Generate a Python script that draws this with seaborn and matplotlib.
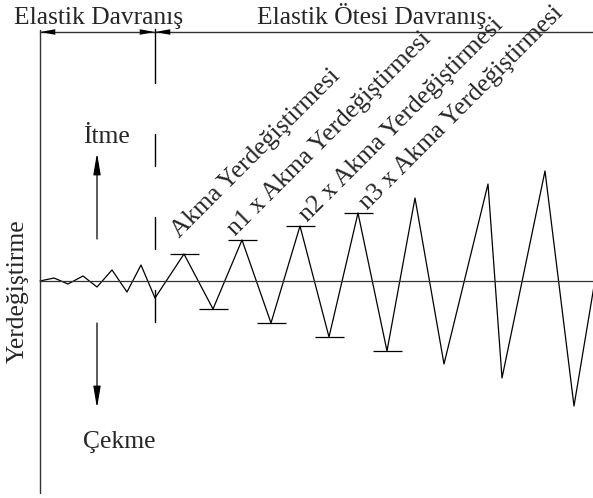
import matplotlib
matplotlib.use("Agg")
import matplotlib.pyplot as plt
import seaborn as sns
import numpy as np
import pandas as pd

# ---- data (x = horizontal position, y = displacement, positive = push) ----
x_pos = [40, 54, 68, 83, 97, 112, 127, 141, 155, 184, 213, 242, 271, 300, 329,
         358, 387, 415, 444, 488, 502, 545, 574, 612]
disp = [0, 3, -3, 5, -6, 11, -11, 16, -17, 27, -28, 41, -42, 55, -56, 68, -70,
        83, -83, 97, -97, 110, -125, 103]
yield_idx = [9, 10, 11, 12, 13, 14, 15, 16]   # points marked with a horizontal bar
labels = ["Akma Yerdeğiştirmesi", "n1 x Akma Yerdeğiştirmesi",
          "n2 x Akma Yerdeğiştirmesi", "n3 x Akma Yerdeğiştirmesi"]
top_left_label = "Elastik Davranış"
top_right_label = "Elastik Ötesi Davranış"
y_label = "Yerdeğiştirme"
push_label = "İtme"
pull_label = "Çekme"

df = pd.DataFrame({"x": x_pos, "disp": disp})

sns.set_theme(style="white")
plt.rcParams["font.family"] = ["Liberation Serif", "DejaVu Serif"]

W, H = 593, 498
fig = plt.figure(figsize=(W / 100, H / 100), dpi=100)
ax = fig.add_axes([0, 0, 1, 1])
Y0 = 281  # pixel row of zero line
ax.set_xlim(0, W)
ax.set_ylim(Y0 - H, Y0)
ax.set_axis_off()

def py(p):  # pixel row -> data y
    return Y0 - p

FS = 18.4
lc = "black"

# main zigzag
sns.lineplot(data=df, x="x", y="disp", sort=False, estimator=None,
             color=lc, lw=0.9, ax=ax, legend=False)

# yield bars
bx = [x_pos[i] for i in yield_idx]
by = [disp[i] for i in yield_idx]
ax.hlines(by, np.array(bx) - 14.5, np.array(bx) + 14.5, color=lc, lw=0.9)

# axes-like lines
ax.plot([40, W], [0, 0], color="#333333", lw=0.9)            # zero line
ax.plot([40, 40], [py(30), py(493)], color="#333333", lw=1.0)  # vertical axis
ax.plot([40, W], [py(32), py(32)], color="#333333", lw=1.0)    # top dimension line

# dashed boundary at x=155
for a, b in [(29, 83), (134, 166), (217, 249), (290, 322)]:
    ax.plot([155, 155], [py(a), py(b)], color=lc, lw=1.0)

# dimension arrowheads
def head(x0, x1, y):
    ax.annotate("", xy=(x1, py(y)), xytext=(x0, py(y)),
                arrowprops=dict(arrowstyle="-|>,head_length=1.1,head_width=0.2",
                                color=lc, lw=0.0, shrinkA=0, shrinkB=0,
                                mutation_scale=10))
head(60, 40, 32)
head(135, 155, 32)
head(175, 155, 32)

# push / pull arrows
for y_from, y_to in [(239, 153), (323, 408)]:
    ax.annotate("", xy=(97, py(y_to)), xytext=(97, py(y_from)),
                arrowprops=dict(arrowstyle="-|>,head_length=1.3,head_width=0.22",
                                color=lc, lw=0.9, shrinkA=0, shrinkB=0,
                                mutation_scale=10))

# texts
ax.text(99, py(24), top_left_label, fontsize=FS, ha="center", va="baseline")
ax.text(372, py(24), top_right_label, fontsize=FS, ha="center", va="baseline")
ax.text(106, py(143), push_label, fontsize=FS, ha="center", va="baseline")
ax.text(119, py(448), pull_label, fontsize=FS, ha="center", va="baseline")
ax.text(18, py(291), y_label, fontsize=FS, rotation=90, ha="center", va="center")

label_pos = [(179, 238), (235, 236), (307, 222), (367, 210)]
for (lx, ly), s in zip(label_pos, labels):
    ax.text(lx, py(ly), s, fontsize=FS, rotation=45, rotation_mode="anchor",
            ha="left", va="baseline")

fig.savefig("out.png", dpi=100, facecolor="white")
